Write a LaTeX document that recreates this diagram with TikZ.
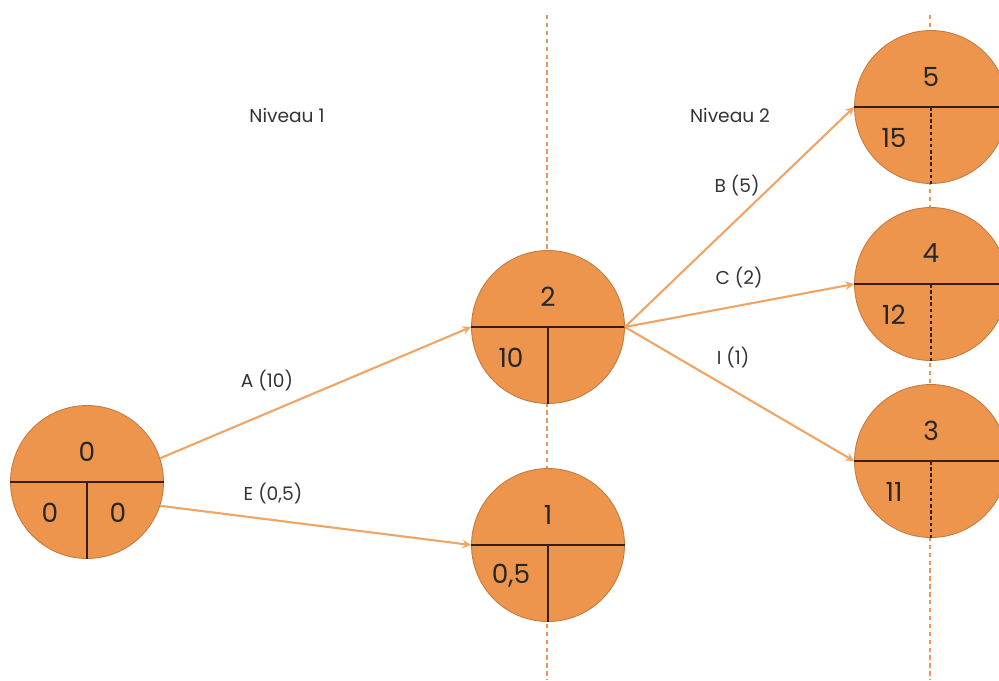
\documentclass[tikz,border=0pt]{standalone}
\usepackage{fontspec}
\setmainfont{Poppins}
\usetikzlibrary{positioning}

\definecolor{eventfill}{RGB}{237,149,76}
\definecolor{eventdraw}{RGB}{196,122,62}
\definecolor{arcline}{RGB}{241,164,102}
\definecolor{levelline}{RGB}{234,150,90}
\definecolor{splitline}{RGB}{58,30,18}

\begin{document}
\begin{tikzpicture}[x=0.02cm, y=-0.02cm,
    event/.style={circle, draw=eventdraw, fill=eventfill, line width=0.5pt,
      minimum size=3.06cm, inner sep=0pt},
    num/.style={font=\fontsize{15}{17}\selectfont, text=black!85},
    lbl/.style={font=\fontsize{10.6}{12}\selectfont, text=black!80},
    arc/.style={draw=arcline, line width=1.2pt, -stealth},
    level/.style={draw=levelline, line width=0.6pt, dash pattern=on 2.5pt off 2pt},
    split/.style={draw=splitline, line width=0.8pt}]
  \useasboundingbox (0,0) rectangle (999,680);

  % level separators
  \draw[level] (547,15) -- (547,680);
  \draw[level] (930,15) -- (930,680);

  \node[lbl] (niv1) at (287,115) {Niveau 1};
  \node[lbl] (niv2) at (730,115) {Niveau 2};

  % events
  \node[event] (e0) at (87,482) {};
  \node[event] (e2) at (548,327) {};
  \node[event] (e1) at (548,545) {};
  \node[event] (e5) at (931,107) {};
  \node[event] (e4) at (931,284) {};
  \node[event] (e3) at (931,461) {};

  \foreach \e in {e0,e2,e1,e5,e4,e3}
    \draw[split] (\e.west) -- (\e.east);
  \foreach \e in {e0,e2,e1}
    \draw[split] (\e.center) -- (\e.south);
  \foreach \e in {e5,e4,e3}
    \draw[split, dash pattern=on 2pt off 1.5pt] (\e.center) -- (\e.south);

  \foreach \e/\t/\l in {e0/0/0, e2/2/10, e1/1/{0,5}, e5/5/15, e4/4/12, e3/3/11}{
    \node[num, yshift=0.61cm] (\e-top) at (\e) {\t};
    \node[num, xshift=-0.74cm, yshift=-0.61cm] (\e-low) at (\e) {\l};
  };
  \node[num, xshift=0.62cm, yshift=-0.61cm] (e0-right) at (e0) {0};

  % tasks
  \draw[arc] (e0.18) -- (e2.west);
  \draw[arc] (e0.-18) -- (e1.west);
  \foreach \t in {e5,e4,e3}
    \draw[arc] (e2.east) -- (\t.west);

  \node[lbl] (tA) at (267,381) {A (10)};
  \node[lbl] (tE) at (273,494) {E (0,5)};
  \node[lbl] (tB) at (737,186) {B (5)};
  \node[lbl] (tC) at (739,278) {C (2)};
  \node[lbl] (tI) at (733,358) {I (1)};
\end{tikzpicture}
\end{document}
